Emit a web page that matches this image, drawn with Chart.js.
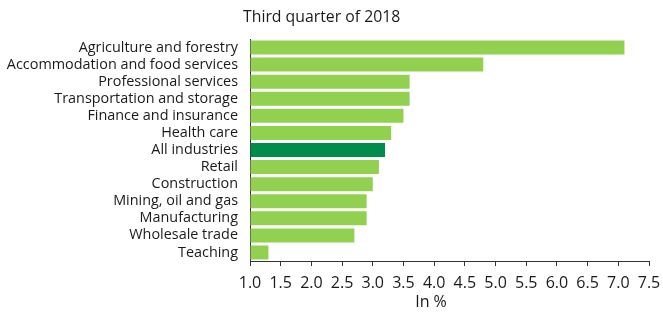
<!DOCTYPE html>
<html>
<head>
<meta charset="utf-8">
<script src="https://cdn.jsdelivr.net/npm/chart.js@4"></script>
<style>
  html, body { margin: 0; padding: 0; background: #fff; }
  #wrap { width: 663px; height: 312px; }
</style>
</head>
<body>
<div id="wrap"><canvas id="industryChart" width="663" height="312"></canvas></div>
<script>
const categories = [
    "Agriculture and forestry",
    "Accommodation and food services",
    "Professional services",
    "Transportation and storage",
    "Finance and insurance",
    "Health care",
    "All industries",
    "Retail",
    "Construction",
    "Mining, oil and gas",
    "Manufacturing",
    "Wholesale trade",
    "Teaching"
];
const values = [7.1, 4.8, 3.6, 3.6, 3.5, 3.3, 3.2, 3.1, 3.0, 2.9, 2.9, 2.7, 1.3];
const highlight = "All industries";
const chartTitle = "Third quarter of 2018";
const axisTitle = "In %";

const LIGHT_GREEN = "#92d050";
const DARK_GREEN = "#008c4b";
const FONT = "'Open Sans', 'Noto Sans', sans-serif";

// ---------- Extra texts: title top-left and axis caption ----------
const textPlugin = {
    id: "textPlugin",
    afterDraw(chart) {
        const ctx = chart.ctx;
        const area = chart.chartArea;
        ctx.save();
        ctx.fillStyle = "#1a1a1a";
        ctx.font = "15.8px " + FONT;
        ctx.textBaseline = "middle";
        ctx.textAlign = "left";
        ctx.fillText(chartTitle, area.left - 7, 17);
        ctx.font = "16px " + FONT;
        ctx.textAlign = "center";
        ctx.fillText(axisTitle, 431, 302);
        ctx.restore();
    }
};

const ctx = document.getElementById("industryChart").getContext("2d");
new Chart(ctx, {
    type: "bar",
    data: {
        labels: categories,
        datasets: [{
            data: values,
            backgroundColor: categories.map(c => c === highlight ? DARK_GREEN : LIGHT_GREEN),
            borderWidth: 0,
            barPercentage: 0.82,
            categoryPercentage: 1.0,
            base: 1
        }]
    },
    options: {
        indexAxis: "y",
        responsive: false,
        animation: false,
        layout: { padding: { top: 39, right: 14, bottom: 0, left: 0 } },
        plugins: {
            legend: { display: false },
            title: { display: false },
            tooltip: { enabled: false }
        },
        scales: {
            x: {
                min: 1,
                max: 7.5,
                ticks: {
                    stepSize: 0.5,
                    color: "#1a1a1a",
                    font: { family: FONT, size: 16 },
                    padding: 8,
                    maxRotation: 0,
                    autoSkip: false,
                    callback: v => v.toFixed(1)
                },
                grid: {
                    drawOnChartArea: false,
                    drawTicks: true,
                    tickLength: 5,
                    color: "#333"
                },
                border: { color: "#333", width: 1 },
                afterFit: scale => {
                    scale.height = 51;
                    scale.paddingLeft = 0;
                    scale.paddingRight = 0;
                }
            },
            y: {
                ticks: {
                    color: "#1a1a1a",
                    font: { family: FONT, size: 14.4 },
                    padding: 12,
                    autoSkip: false
                },
                grid: { drawOnChartArea: false, drawTicks: false },
                border: { color: "#333", width: 1 },
                afterFit: scale => { scale.width = 250; }
            }
        }
    },
    plugins: [textPlugin]
});
</script>
</body>
</html>
